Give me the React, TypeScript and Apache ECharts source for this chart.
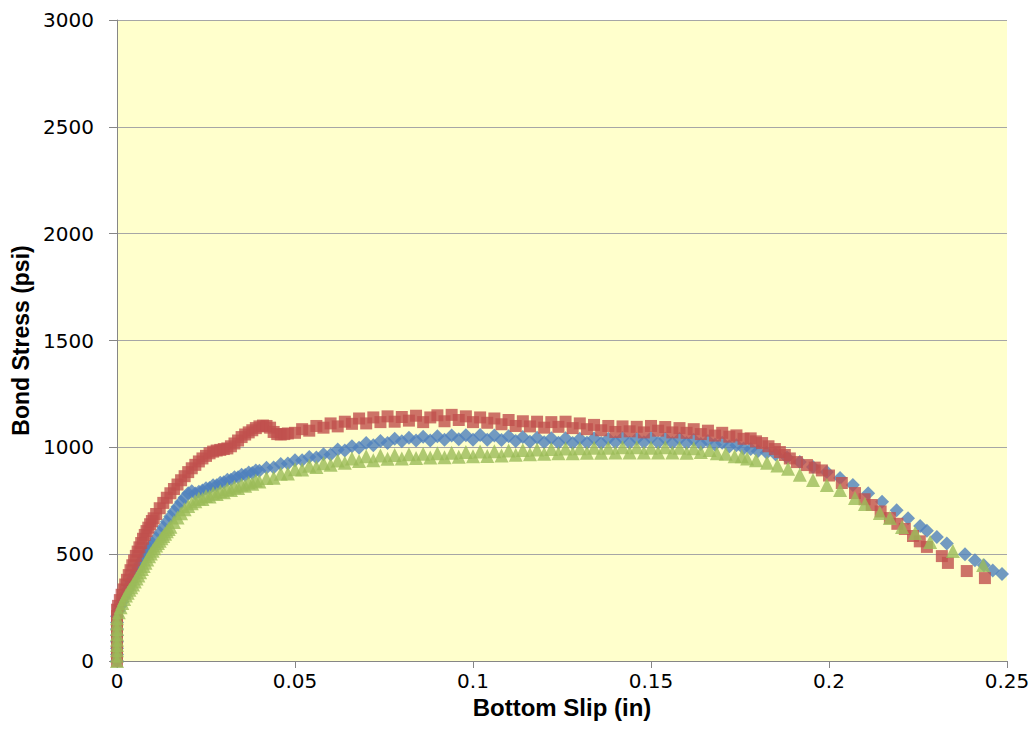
import React, { useEffect, useRef } from "react";
import * as echarts from "echarts";

const xTicks = [0, 0.05, 0.1, 0.15, 0.2, 0.25];
const yTicks = [0, 500, 1000, 1500, 2000, 2500, 3000];

// [bottom slip (in), bond stress (psi)]
const bluePoints: [number, number][] = [
  [0, 0], [0, 30], [0, 60], [0, 90], [0, 120], [0, 150], [0, 180], [0, 210],
  [0.0005, 235], [0.001, 258], [0.0015, 278], [0.002, 298], [0.0025, 316], [0.003, 334],
  [0.0035, 352], [0.004, 370], [0.0045, 388], [0.005, 406], [0.0055, 422], [0.006, 438],
  [0.0065, 454], [0.007, 470], [0.0075, 484], [0.008, 498], [0.0085, 512], [0.009, 526],
  [0.0095, 538], [0.01, 550], [0.011, 575], [0.012, 600], [0.013, 626], [0.014, 652],
  [0.015, 676], [0.016, 700], [0.017, 722], [0.018, 744], [0.019, 765], [0.02, 785],
  [0.021, 795], [0.022, 784], [0.023, 792], [0.024, 798], [0.025, 808], [0.026, 810],
  [0.027, 822], [0.028, 822], [0.029, 834], [0.03, 836], [0.031, 848], [0.032, 848],
  [0.033, 860], [0.034, 860], [0.035, 872], [0.036, 870], [0.037, 882], [0.038, 880],
  [0.039, 892], [0.04, 890], [0.042, 905], [0.044, 906], [0.046, 922], [0.048, 924],
  [0.05, 940], [0.052, 940], [0.054, 955], [0.056, 952], [0.058, 968], [0.06, 966],
  [0.062, 990], [0.064, 985], [0.066, 1005], [0.068, 998], [0.07, 1020], [0.072, 1010],
  [0.074, 1030], [0.076, 1020], [0.078, 1040], [0.08, 1028], [0.082, 1045], [0.084, 1032],
  [0.086, 1050], [0.088, 1032], [0.09, 1052], [0.092, 1035], [0.094, 1055], [0.096, 1038],
  [0.098, 1056], [0.1, 1036], [0.102, 1058], [0.104, 1036], [0.106, 1055], [0.108, 1034],
  [0.11, 1052], [0.112, 1030], [0.114, 1048], [0.116, 1026], [0.118, 1045], [0.12, 1024],
  [0.122, 1042], [0.124, 1022], [0.126, 1042], [0.128, 1020], [0.13, 1040], [0.132, 1022],
  [0.134, 1042], [0.136, 1020], [0.138, 1040], [0.14, 1024], [0.142, 1044], [0.144, 1022],
  [0.146, 1040], [0.148, 1024], [0.15, 1044], [0.152, 1022], [0.154, 1040], [0.156, 1020],
  [0.158, 1040], [0.16, 1020], [0.162, 1036], [0.164, 1016], [0.166, 1030], [0.168, 1012],
  [0.17, 1022], [0.172, 1004], [0.174, 1010], [0.176, 995], [0.178, 992], [0.18, 982],
  [0.1825, 975], [0.185, 966], [0.1882, 952], [0.1918, 931], [0.1955, 908], [0.1994, 884],
  [0.2031, 856], [0.2067, 824], [0.211, 785], [0.2149, 745], [0.219, 705], [0.2222, 668],
  [0.2256, 632], [0.2275, 610], [0.2303, 580], [0.2331, 550], [0.2382, 500], [0.241, 472],
  [0.2435, 448], [0.246, 424], [0.2486, 407],
];

const redPoints: [number, number][] = [
  [0, 0], [0, 30], [0, 60], [0, 90], [0, 120], [0, 150], [0, 180], [0, 210], [0, 240],
  [0.0003, 258], [0.0008, 285], [0.0013, 310], [0.0018, 335], [0.0023, 358], [0.0028, 380],
  [0.0033, 402], [0.0038, 425], [0.0043, 448], [0.0048, 470], [0.0053, 492], [0.0058, 512],
  [0.0063, 532], [0.0068, 552], [0.0073, 572], [0.0078, 590], [0.0083, 608], [0.0088, 624],
  [0.0093, 640], [0.0098, 655], [0.0103, 668], [0.011, 688], [0.012, 715], [0.013, 740],
  [0.014, 764], [0.015, 785], [0.016, 805], [0.017, 826], [0.018, 846], [0.019, 865],
  [0.02, 884], [0.021, 902], [0.022, 918], [0.023, 934], [0.024, 948], [0.025, 960],
  [0.026, 972], [0.027, 980], [0.028, 985], [0.029, 988], [0.03, 992], [0.031, 995],
  [0.032, 1005], [0.033, 1018], [0.034, 1032], [0.035, 1048], [0.036, 1060], [0.037, 1070],
  [0.038, 1080], [0.039, 1090], [0.04, 1098], [0.041, 1102], [0.042, 1100], [0.043, 1092],
  [0.044, 1072], [0.045, 1062], [0.046, 1060], [0.047, 1062], [0.048, 1065],
  [0.05, 1068], [0.052, 1085], [0.054, 1078], [0.056, 1100], [0.058, 1092], [0.06, 1112],
  [0.062, 1098], [0.064, 1120], [0.066, 1110], [0.068, 1135], [0.07, 1112], [0.072, 1140],
  [0.074, 1118], [0.076, 1145], [0.078, 1120], [0.08, 1142], [0.082, 1125], [0.084, 1148],
  [0.086, 1118], [0.088, 1140], [0.09, 1150], [0.092, 1122], [0.094, 1152], [0.096, 1128],
  [0.098, 1145], [0.1, 1118], [0.102, 1140], [0.104, 1115], [0.106, 1135], [0.108, 1108],
  [0.11, 1128], [0.112, 1100], [0.114, 1122], [0.116, 1098], [0.118, 1120], [0.12, 1092],
  [0.122, 1118], [0.124, 1096], [0.126, 1120], [0.128, 1090], [0.13, 1112], [0.132, 1085],
  [0.134, 1105], [0.136, 1080], [0.138, 1100], [0.14, 1072], [0.142, 1098], [0.144, 1075],
  [0.146, 1096], [0.148, 1070], [0.15, 1100], [0.152, 1078], [0.154, 1095], [0.156, 1070],
  [0.158, 1090], [0.16, 1068], [0.162, 1085], [0.164, 1062], [0.166, 1078], [0.168, 1055],
  [0.17, 1068], [0.172, 1050], [0.174, 1056], [0.176, 1040], [0.178, 1042], [0.1795, 1028],
  [0.1812, 1020], [0.183, 1005], [0.1848, 992], [0.1862, 978], [0.1876, 964], [0.189, 948],
  [0.191, 931], [0.1938, 917], [0.196, 905], [0.198, 892], [0.2, 868], [0.2036, 833],
  [0.2073, 786], [0.21, 757], [0.212, 730], [0.2145, 700], [0.2171, 669], [0.2192, 642],
  [0.2213, 618], [0.2236, 585], [0.2255, 560], [0.2275, 534], [0.2317, 491], [0.2334, 459],
  [0.2387, 421], [0.2438, 388],
];

const greenPoints: [number, number][] = [
  [0, 0], [0, 25], [0, 50], [0, 75], [0, 100], [0, 125], [0, 150], [0, 175], [0, 200],
  [0.0005, 228], [0.001, 252], [0.0015, 272], [0.002, 290], [0.0025, 306], [0.003, 320],
  [0.0035, 333], [0.004, 345], [0.0045, 358], [0.005, 372], [0.0055, 386], [0.006, 400],
  [0.0065, 415], [0.007, 430], [0.0075, 445], [0.008, 460], [0.0085, 475], [0.009, 490],
  [0.0095, 503], [0.01, 516], [0.0105, 528], [0.011, 540], [0.0115, 552], [0.012, 563],
  [0.0125, 574], [0.013, 585], [0.0135, 596], [0.014, 607], [0.0145, 618], [0.015, 628],
  [0.016, 650], [0.017, 672], [0.018, 692], [0.019, 710], [0.02, 726], [0.021, 738],
  [0.022, 748], [0.023, 760], [0.024, 758], [0.025, 772], [0.026, 770], [0.027, 785],
  [0.028, 782], [0.029, 795], [0.03, 790], [0.031, 805], [0.032, 800], [0.033, 815],
  [0.034, 810], [0.035, 825], [0.036, 820], [0.037, 835], [0.038, 830], [0.039, 845],
  [0.04, 840], [0.042, 856], [0.044, 858], [0.046, 876], [0.048, 878], [0.05, 898],
  [0.052, 896], [0.054, 914], [0.056, 908], [0.058, 926], [0.06, 918], [0.062, 938],
  [0.064, 928], [0.066, 948], [0.068, 936], [0.07, 958], [0.072, 940], [0.074, 962],
  [0.076, 946], [0.078, 964], [0.08, 948], [0.082, 968], [0.084, 950], [0.086, 970],
  [0.088, 952], [0.09, 972], [0.092, 954], [0.094, 975], [0.096, 956], [0.098, 978],
  [0.1, 958], [0.102, 980], [0.104, 960], [0.106, 982], [0.108, 962], [0.11, 985],
  [0.112, 965], [0.114, 988], [0.116, 968], [0.118, 990], [0.12, 970], [0.122, 992],
  [0.124, 972], [0.126, 995], [0.128, 972], [0.13, 996], [0.132, 975], [0.134, 998],
  [0.136, 975], [0.138, 998], [0.14, 976], [0.142, 1000], [0.144, 976], [0.146, 1000],
  [0.148, 976], [0.15, 998], [0.152, 976], [0.154, 1000], [0.156, 976], [0.158, 998],
  [0.16, 975], [0.162, 996], [0.164, 978], [0.1665, 988], [0.1685, 972], [0.171, 970],
  [0.1735, 958], [0.1755, 958], [0.177, 948], [0.1795, 940], [0.1826, 928], [0.1855, 915],
  [0.1885, 900], [0.1918, 872], [0.1955, 847], [0.1994, 824], [0.2031, 800], [0.2073, 763],
  [0.2101, 735], [0.2143, 693], [0.2171, 669], [0.2205, 627], [0.2242, 599], [0.2284, 557],
  [0.2348, 515], [0.2433, 449],
];

export default function App() {
  const ref = useRef<HTMLDivElement>(null);
  useEffect(() => {
    if (!ref.current) return;
    const chart = echarts.init(ref.current, undefined, { renderer: "svg" });
    const axisColor = "#868686";
    chart.setOption({
      animation: false,
      backgroundColor: "#ffffff",
      grid: {
        left: 117,
        right: 23,
        top: 20,
        bottom: 90,
        show: true,
        backgroundColor: "#FFFFCC",
        borderWidth: 0,
        containLabel: false,
        outerBoundsMode: "none",
      },
      xAxis: {
        type: "value",
        min: xTicks[0],
        max: xTicks[xTicks.length - 1],
        interval: 0.05,
        name: "Bottom Slip (in)",
        nameLocation: "middle",
        nameGap: 28,
        nameTextStyle: {
          fontFamily: "Liberation Sans",
          fontWeight: "bold",
          fontSize: 24,
          color: "#000",
        },
        axisLine: { show: true, onZero: false, lineStyle: { color: axisColor, width: 1 } },
        axisTick: { show: true, inside: false, length: 7, lineStyle: { color: axisColor } },
        splitLine: { show: false },
        axisLabel: {
          fontFamily: "DejaVu Sans",
          fontSize: 20,
          color: "#000",
          margin: 10,
          formatter: (v: number) => String(Number(v.toFixed(3))),
        },
      },
      yAxis: {
        type: "value",
        min: yTicks[0],
        max: yTicks[yTicks.length - 1],
        interval: 500,
        name: "Bond Stress (psi)",
        nameLocation: "middle",
        nameGap: 84,
        nameTextStyle: {
          fontFamily: "Liberation Sans",
          fontWeight: "bold",
          fontSize: 23,
          color: "#000",
        },
        axisLine: { show: true, lineStyle: { color: axisColor, width: 1 } },
        axisTick: { show: true, inside: false, length: 8, lineStyle: { color: axisColor } },
        splitLine: { show: true, lineStyle: { color: "#A6A6A6", width: 1 } },
        axisLabel: {
          fontFamily: "DejaVu Sans",
          fontSize: 20,
          color: "#000",
          margin: 23,
          formatter: (v: number) => String(v),
        },
      },
      series: [
        {
          name: "Blue",
          type: "scatter",
          symbol: "diamond",
          symbolSize: 14,
          itemStyle: { color: "#4F81BD" },
          data: bluePoints,
        },
        {
          name: "Red",
          type: "scatter",
          symbol: "rect",
          symbolSize: 12,
          itemStyle: { color: "#C0504D" },
          data: redPoints,
        },
        {
          name: "Green",
          type: "scatter",
          symbol: "triangle",
          symbolSize: 14,
          itemStyle: { color: "#9BBB59" },
          data: greenPoints,
        },
      ],
    });
    return () => chart.dispose();
  }, []);
  return (
    <div
      ref={ref}
      style={{ position: "absolute", left: 0, top: 0, width: 1030, height: 751 }}
    />
  );
}
